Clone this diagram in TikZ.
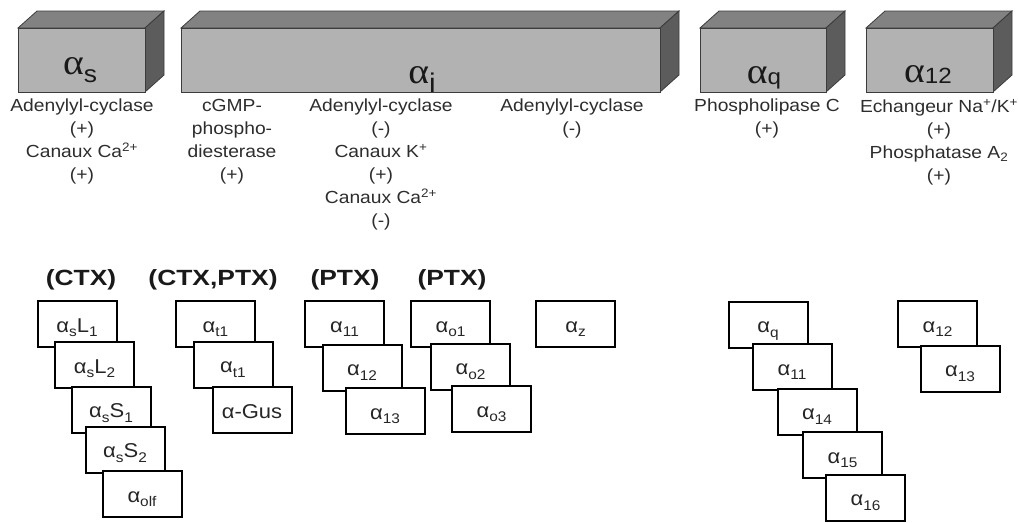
\documentclass[tikz,border=0pt]{standalone}
\usepackage{fontspec}
\setmainfont{Liberation Sans}[FakeStretch=1.1]
\newfontfamily\serifa{Liberation Serif}[FakeStretch=1.1]
\newfontfamily\boldlab{Liberation Sans}[FakeStretch=1.2]
\definecolor{frontc}{RGB}{178,178,178}
\definecolor{topc}{RGB}{130,130,130}
\definecolor{sidec}{RGB}{92,92,92}
\definecolor{edgec}{RGB}{60,60,60}
\definecolor{txt}{RGB}{45,45,45}
\newcommand\bsub[1]{\raisebox{-0.45ex}{\fontsize{14}{14}\selectfont #1}}
\newcommand\bigsub[3]{\raisebox{-#1pt}{\fontsize{#2}{#2}\selectfont #3}}
\tikzset{
  gbox/.style={draw=black, line width=2pt, fill=white, minimum width=79pt,
    minimum height=46pt, inner sep=0pt, font=\fontsize{20}{20}\selectfont,
    text height=19pt, text depth=3pt, text=black!85},
  desc/.style={align=center, anchor=north, inner sep=0pt, text=txt,
    font=\fontsize{17.5}{23}\selectfont},
  grp/.style={anchor=base, inner sep=0pt, text=black!90,
    font=\boldlab\bfseries\fontsize{22}{22}\selectfont},
  biglab/.style={anchor=base, inner sep=0pt, text=black!90,
    font=\fontsize{36}{36}\selectfont},
  frontface/.style={fill=frontc, draw=edgec, line width=0.8pt},
  topface/.style={fill=topc, draw=edgec, line width=0.8pt},
  sideface/.style={fill=sidec, draw=edgec, line width=0.8pt}
}
\begin{document}
\begin{tikzpicture}[x=1pt,y=-1pt]
\useasboundingbox (0,0) rectangle (1019,522);
% 3D blocks
\foreach \xa/\xb in {18/145, 181/660, 700/826, 866/993}{
  \filldraw[topface] (\xa,28) -- (\xa+19,11) -- (\xb+19,11) -- (\xb,28) -- cycle;
  \filldraw[sideface] (\xb,28) -- (\xb+19,11) -- (\xb+19,75) -- (\xb,92) -- cycle;
  \filldraw[frontface] (\xa,28) rectangle (\xb,92);
}
\node[biglab] (las) at (80,74) {{\serifa α}\bigsub{8}{24}{s}};
\node[biglab] (lai) at (422,83) {{\serifa α}\bigsub{9}{27}{i}};
\node[biglab] (laq) at (764,83) {{\serifa α}\bigsub{1}{22}{q}};
\node[biglab] (la12) at (928,82) {{\serifa α}\bigsub{1}{22}{12}};
% descriptions
\node[desc] (d1) at (82,99) {Adenylyl-cyclase\\(+)\\Canaux Ca\textsuperscript{2+}\\(+)};
\node[desc] (d2) at (232,99) {cGMP-\\phospho-\\diesterase\\(+)};
\node[desc] (d3) at (381,99) {Adenylyl-cyclase\\(-)\\Canaux K\textsuperscript{+}\\(+)\\Canaux Ca\textsuperscript{2+}\\(-)};
\node[desc] (d4) at (572,99) {Adenylyl-cyclase\\(-)};
\node[desc] (d5) at (767,99) {Phospholipase C\\(+)};
\node[desc] (d6) at (939,99) {Echangeur Na\textsuperscript{+}/K\textsuperscript{+}\\(+)\\Phosphatase A\textsubscript{2}\\(+)};
% group labels
\node[grp] (g1) at (81,285) {(CTX)};
\node[grp] (g2) at (213,285) {(CTX,PTX)};
\node[grp] (g3) at (345,285) {(PTX)};
\node[grp] (g4) at (452,285) {(PTX)};
% CTX group
\node[gbox] (sL1) at (77,324) {α\bsub{s}L\bsub{1}};
\node[gbox] (sL2) at (94.5,365) {α\bsub{s}L\bsub{2}};
\node[gbox] (sS1) at (111,409.5) {α\bsub{s}S\bsub{1}};
\node[gbox] (sS2) at (125,449.5) {α\bsub{s}S\bsub{2}};
\node[gbox] (olf) at (142,494) {α\bsub{olf}};
% CTX,PTX group
\node[gbox] (t1) at (215.5,324) {α\bsub{t1}};
\node[gbox] (t1b) at (233,364.5) {α\bsub{t1}};
\node[gbox] (gus) at (252,410) {α-Gus};
% PTX group 1
\node[gbox] (i1) at (344.5,324) {α\bsub{11}};
\node[gbox] (i2) at (362,367.5) {α\bsub{12}};
\node[gbox] (i3) at (385,411) {α\bsub{13}};
% PTX group 2
\node[gbox] (o1) at (450.5,324) {α\bsub{o1}};
\node[gbox] (o2) at (470.5,366.5) {α\bsub{o2}};
\node[gbox] (o3) at (491.5,409) {α\bsub{o3}};
% z
\node[gbox] (z) at (575.5,324) {α\bsub{z}};
% q group
\node[gbox] (q) at (768,324.5) {α\bsub{q}};
\node[gbox] (q11) at (792,367) {α\bsub{11}};
\node[gbox] (q14) at (817,411.5) {α\bsub{14}};
\node[gbox] (q15) at (842.5,455) {α\bsub{15}};
\node[gbox] (q16) at (865.5,497.5) {α\bsub{16}};
% 12/13 group
\node[gbox] (a12) at (937.5,324) {α\bsub{12}};
\node[gbox] (a13) at (960,368.5) {α\bsub{13}};
\end{tikzpicture}
\end{document}
